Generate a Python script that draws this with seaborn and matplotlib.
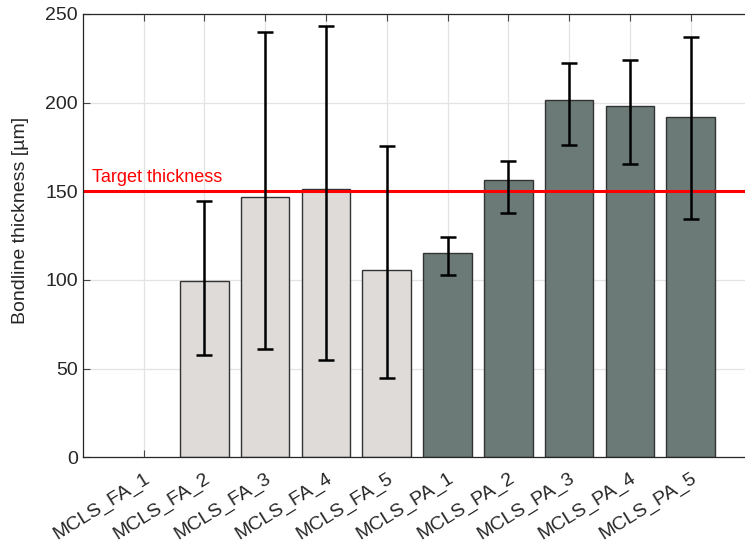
import numpy as np
import pandas as pd
import seaborn as sns
import matplotlib.pyplot as plt

categories = ['MCLS_FA_1', 'MCLS_FA_2', 'MCLS_FA_3', 'MCLS_FA_4', 'MCLS_FA_5',
              'MCLS_PA_1', 'MCLS_PA_2', 'MCLS_PA_3', 'MCLS_PA_4', 'MCLS_PA_5']
groups = ['FA'] * 5 + ['PA'] * 5
thickness = [np.nan, 99.3, 147.0, 151.3, 105.6, 115.2, 156.6, 201.7, 198.0, 191.9]
err_low = [np.nan, 57.7, 61.1, 54.7, 44.7, 102.8, 137.6, 176.3, 165.4, 134.6]
err_high = [np.nan, 144.7, 239.7, 243.3, 175.7, 124.1, 167.1, 222.6, 223.9, 237.0]
target = 150

df = pd.DataFrame({'Sample': categories, 'Group': groups, 'Thickness': thickness})

sns.set_style('white')
plt.rcParams['font.family'] = ['Liberation Sans', 'DejaVu Sans']

fig = plt.figure(figsize=(7.45, 5.46), dpi=100)
ax = fig.add_axes([82.7 / 745, 88.7 / 546, 668.8 / 745, 443.3 / 546])

sns.barplot(data=df, x='Sample', y='Thickness', hue='Group', order=categories,
            palette={'FA': '#dfdbd8', 'PA': '#687d79'}, dodge=False, width=0.8,
            edgecolor='#333333', linewidth=1.0, legend=False, zorder=2, ax=ax)

pos = np.arange(len(categories))
vals = np.array(thickness)
yerr = [vals - np.array(err_low), np.array(err_high) - vals]
ax.errorbar(pos, vals, yerr=yerr, fmt='none', ecolor='black', elinewidth=1.8,
            capsize=5.5, capthick=1.8, zorder=3)

ax.axhline(target, color='#ff0000', lw=2.2, zorder=2.5)
ax.text(-0.85, target + 3, 'Target thickness', color='#ff0000', fontsize=13,
        va='bottom', ha='left')

ax.set_xlim(-1, 10)
ax.set_ylim(0, 250)
ax.set_yticks([0, 50, 100, 150, 200, 250])
ax.grid(True, color='#e3e3e3', lw=0.9, zorder=0)
ax.set_axisbelow(True)
ax.tick_params(direction='in', length=5, width=0.8, color='#444444',
               labelsize=14, top=True, right=False, bottom=True, left=True)
ax.tick_params(axis='x', pad=9)
ax.set_xticks(pos)
ax.set_xticklabels(categories, rotation=32, ha='right', rotation_mode='anchor', fontsize=14)
ax.set_xlabel('')
ax.set_ylabel('Bondline thickness [µm]', fontsize=14)
ax.yaxis.set_label_coords(-0.08, 0.535)
for s in ['left', 'bottom', 'top', 'right']:
    ax.spines[s].set_visible(True)
    ax.spines[s].set_color('#262626')
    ax.spines[s].set_linewidth(0.9)

fig.savefig('out.png', dpi=100)
